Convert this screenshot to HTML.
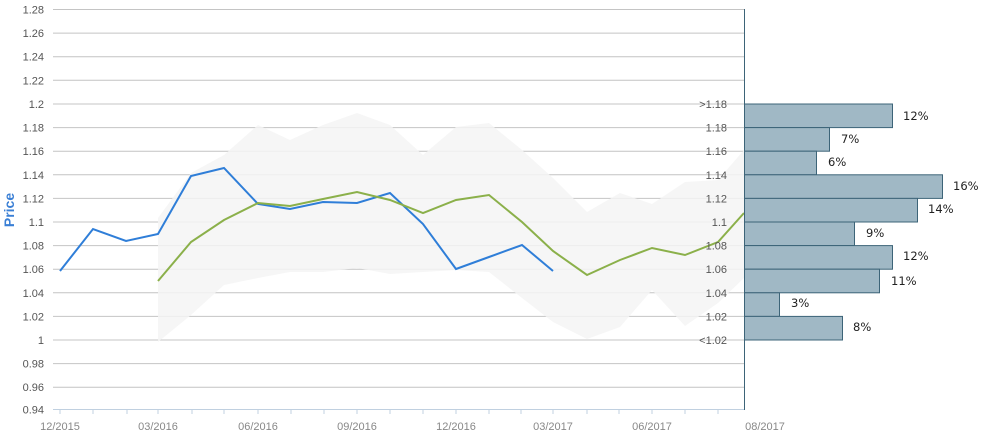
<!DOCTYPE html>
<html><head><meta charset="utf-8"><style>
body{margin:0;background:#fff;}
svg{display:block;font-family:"Liberation Sans",Arial,sans-serif;}
</style></head><body>
<svg width="985" height="436" viewBox="0 0 985 436">
<g stroke="#c4c4c4" stroke-width="1">
<line x1="53" x2="745" y1="9.5" y2="9.5"/><line x1="53" x2="745" y1="33.1" y2="33.1"/><line x1="53" x2="745" y1="56.7" y2="56.7"/><line x1="53" x2="745" y1="80.3" y2="80.3"/><line x1="53" x2="745" y1="104" y2="104"/><line x1="53" x2="745" y1="127.6" y2="127.6"/><line x1="53" x2="745" y1="151.2" y2="151.2"/><line x1="53" x2="745" y1="174.8" y2="174.8"/><line x1="53" x2="745" y1="198.4" y2="198.4"/><line x1="53" x2="745" y1="222" y2="222"/><line x1="53" x2="745" y1="245.6" y2="245.6"/><line x1="53" x2="745" y1="269.2" y2="269.2"/><line x1="53" x2="745" y1="292.8" y2="292.8"/><line x1="53" x2="745" y1="316.4" y2="316.4"/><line x1="53" x2="745" y1="340" y2="340"/><line x1="53" x2="745" y1="363.6" y2="363.6"/><line x1="53" x2="745" y1="387.2" y2="387.2"/>
</g>
<polygon fill="#f4f4f4" opacity="0.85" points="158,218 191,173 224,155 258,125 290,140 323,125 357,113 390,125 423,155 456,127 489,123 522,150 553,178 587,212 620,193 652,204 685,182 718,180 744,150 744,278 718,303 685,326 652,290 620,327 587,339 553,322 522,298 489,272 456,270 423,272 390,274 357,268 323,272 290,272 258,278 224,285 191,315 158,342"/>
<g font-size="11" fill="#555" text-anchor="end">
<text x="44" y="13.5">1.28</text><text x="44" y="37">1.26</text><text x="44" y="60.7">1.24</text><text x="44" y="84.3">1.22</text><text x="44" y="108">1.2</text><text x="44" y="131.6">1.18</text><text x="44" y="155.2">1.16</text><text x="44" y="178.8">1.14</text><text x="44" y="202.4">1.12</text><text x="44" y="226">1.1</text><text x="44" y="249.6">1.08</text><text x="44" y="273.2">1.06</text><text x="44" y="296.8">1.04</text><text x="44" y="320.4">1.02</text><text x="44" y="344">1</text><text x="44" y="367.6">0.98</text><text x="44" y="391.2">0.96</text><text x="44" y="413.5">0.94</text>
</g>
<text transform="translate(14,210) rotate(-90)" text-anchor="middle" font-size="14" font-weight="bold" fill="#3a7fd5">Price</text>
<line x1="53" x2="745" y1="409.5" y2="409.5" stroke="#c0d0e0"/>
<g stroke="#c0d0e0"><line x1="60" x2="60" y1="409" y2="414"/><line x1="93" x2="93" y1="409" y2="414"/><line x1="127" x2="127" y1="409" y2="414"/><line x1="158" x2="158" y1="409" y2="414"/><line x1="192" x2="192" y1="409" y2="414"/><line x1="224" x2="224" y1="409" y2="414"/><line x1="258" x2="258" y1="409" y2="414"/><line x1="291" x2="291" y1="409" y2="414"/><line x1="324" x2="324" y1="409" y2="414"/><line x1="357" x2="357" y1="409" y2="414"/><line x1="390" x2="390" y1="409" y2="414"/><line x1="423" x2="423" y1="409" y2="414"/><line x1="456" x2="456" y1="409" y2="414"/><line x1="489" x2="489" y1="409" y2="414"/><line x1="521" x2="521" y1="409" y2="414"/><line x1="553" x2="553" y1="409" y2="414"/><line x1="587" x2="587" y1="409" y2="414"/><line x1="619" x2="619" y1="409" y2="414"/><line x1="652" x2="652" y1="409" y2="414"/><line x1="685" x2="685" y1="409" y2="414"/><line x1="718" x2="718" y1="409" y2="414"/></g>
<g font-size="11" fill="#888" text-anchor="middle">
<text x="60" y="430">12/2015</text><text x="158" y="430">03/2016</text><text x="258" y="430">06/2016</text><text x="357" y="430">09/2016</text><text x="456" y="430">12/2016</text><text x="553" y="430">03/2017</text><text x="652" y="430">06/2017</text><text x="765" y="430">08/2017</text>
</g>
<polyline fill="none" stroke="#2f7ed8" stroke-width="2" points="60,271 93,229 126,241 158,234 191,176 224,168 258,204 290,209 323,202 357,203 390,193 423,224 456,269 489,257 522,245 553,271"/>
<polyline fill="none" stroke="#8bb04a" stroke-width="2" points="158,281 191,242 224,220 258,203 290,206 323,199 357,192 390,200 423,213 456,200 489,195 522,222 553,251 587,275 620,260 652,248 685,255 718,242 744,213"/>
<g fill="#a0b8c5" stroke="#3d6478" stroke-width="1">
<rect x="744.5" y="104" width="148" height="23.6"/><rect x="744.5" y="127.6" width="85" height="23.6"/><rect x="744.5" y="151.2" width="72" height="23.6"/><rect x="744.5" y="174.8" width="198" height="23.6"/><rect x="744.5" y="198.4" width="173" height="23.6"/><rect x="744.5" y="222" width="110" height="23.6"/><rect x="744.5" y="245.6" width="148" height="23.6"/><rect x="744.5" y="269.2" width="135" height="23.6"/><rect x="744.5" y="292.8" width="35" height="23.6"/><rect x="744.5" y="316.4" width="98" height="23.6"/>
</g>
<line x1="744.5" x2="744.5" y1="9" y2="410" stroke="#3d6478"/>
<g font-size="11" fill="#555" text-anchor="end">
<text x="727" y="108">&gt;1.18</text><text x="727" y="131.6">1.18</text><text x="727" y="155.2">1.16</text><text x="727" y="178.8">1.14</text><text x="727" y="202.4">1.12</text><text x="727" y="226">1.1</text><text x="727" y="249.6">1.08</text><text x="727" y="273.2">1.06</text><text x="727" y="296.8">1.04</text><text x="727" y="320.4">1.02</text><text x="727" y="344">&lt;1.02</text>
</g>
<g font-size="11.5" fill="#222" font-family="DejaVu Sans, sans-serif">
<text x="903" y="120">12%</text><text x="841" y="143">7%</text><text x="828" y="166">6%</text><text x="953" y="190">16%</text><text x="928" y="213">14%</text><text x="866" y="237">9%</text><text x="903" y="260">12%</text><text x="891" y="285">11%</text><text x="791" y="307">3%</text><text x="853" y="331">8%</text>
</g>
</svg>
</body></html>
